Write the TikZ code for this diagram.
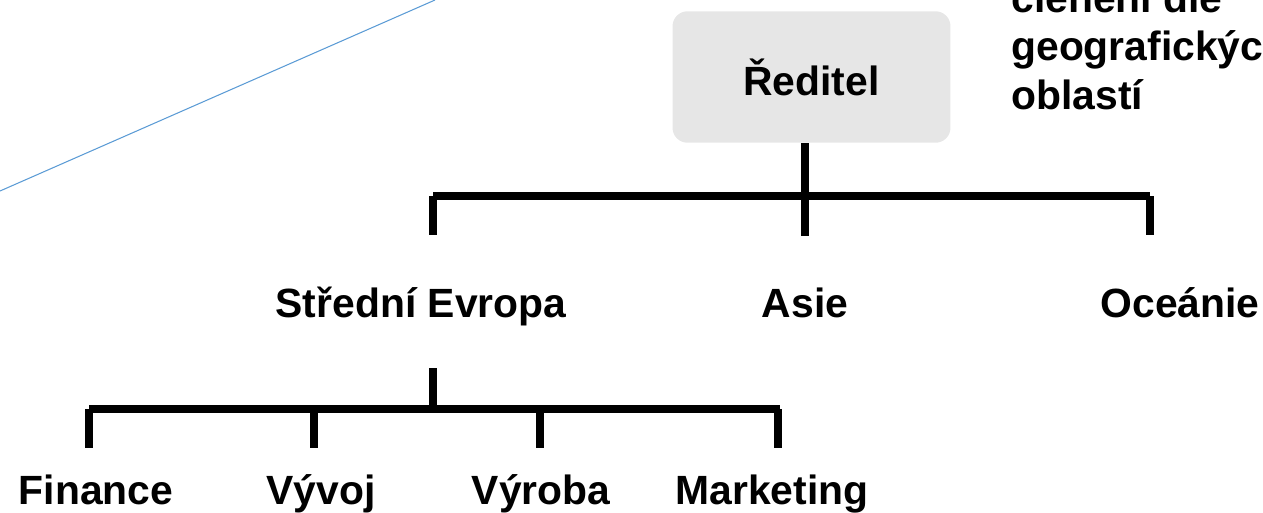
\documentclass[tikz,border=0pt]{standalone}
\usepackage{fontspec}
\setmainfont{Liberation Sans}
\definecolor{boxgrey}{HTML}{E6E6E6}
\definecolor{lineblue}{HTML}{5B9BD5}
\tikzset{
  conn/.style={line width=4.5pt},
  lbl/.style={font=\fontsize{23.25}{28}\selectfont\bfseries, inner sep=0pt, anchor=base},
  boss/.style={lbl, anchor=center, fill=boxgrey, rounded corners=8.5pt,
    minimum width=158.2pt, minimum height=74.8pt}
}

\begin{document}
\begin{tikzpicture}[x=0.02cm,y=-0.02cm]
    \useasboundingbox (0,0) rectangle (1263,512);
    \clip (0,0) rectangle (1263,512);
    % thin diagonal in the corner
    \draw[lineblue, line width=0.6pt] (0,191) -- (435,0);

    % head
    \node[boss] (reditel) at (811.5,77) {Ředitel};
    \node[lbl, anchor=base west] (cap1) at (1011,12) {členění dle};
    \node[lbl, anchor=base west] (cap2) at (1011,60) {geografických};
    \node[lbl, anchor=base west] (cap3) at (1011,109) {oblastí};

    % regions
    \node[lbl] (evropa) at (421,317) {Střední Evropa};
    \node[lbl] (asie) at (805,317) {Asie};
    \node[lbl] (oceanie) at (1180,317) {Oceánie};

    % departments
    \node[lbl] (finance) at (96,504) {Finance};
    \node[lbl] (vyvoj) at (321,504) {Vývoj};
    \node[lbl] (vyroba) at (541,504) {Výroba};
    \node[lbl] (marketing) at (772,504) {Marketing};

    % upper bracket
    \coordinate (top-l) at (433,196);
    \coordinate (top-r) at (1150,196);
    \draw[conn] (reditel.south -| 805,0) -- (805,236);
    \draw[conn] (top-l) -- (top-r);
    \draw[conn] (top-l) -- (433,235);
    \draw[conn] (top-r) -- (1150,235);

    % lower bracket
    \coordinate (sub) at (433,368);
    \coordinate (low-l) at (89,409);
    \coordinate (low-r) at (780,409);
    \draw[conn] (sub) -- (433,409);
    \draw[conn] (low-l) -- (low-r);
    \draw[conn] (low-l) -- (89,448);
    \draw[conn] (314,409) -- (314,448);
    \draw[conn] (540,409) -- (540,448);
    \draw[conn] (778,409) -- (778,448);
\end{tikzpicture}
\end{document}
